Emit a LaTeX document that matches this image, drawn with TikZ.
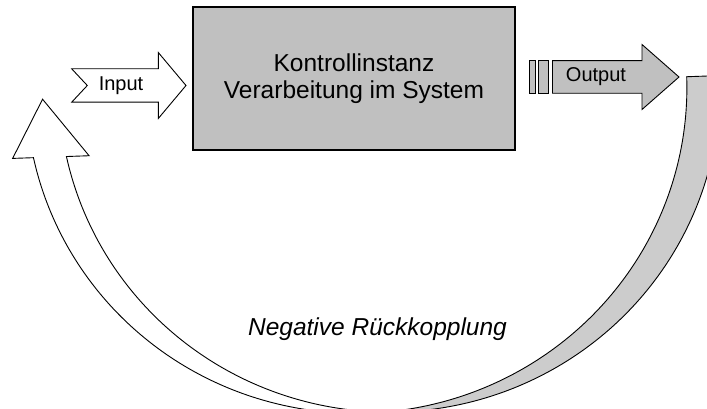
\documentclass[tikz,border=0pt]{standalone}
\usepackage{fontspec}
\setmainfont{Liberation Sans}
\definecolor{boxgray}{RGB}{192,192,192}
\definecolor{bandgray}{RGB}{204,204,204}
\begin{document}
\begin{tikzpicture}[x=1pt,y=-1pt,
  outl/.style={draw=black,line width=0.9pt,line join=miter},
  boxstyle/.style={draw=black,line width=1.1pt,fill=boxgray,minimum width=322pt,minimum height=143pt,inner sep=0pt,align=center,font=\fontsize{24.5}{27}\selectfont},
  smalltxt/.style={font=\fontsize{20}{24}\selectfont,inner sep=0pt},
  fbtxt/.style={font=\itshape\fontsize{24.5}{28}\selectfont,inner sep=0pt}]
\useasboundingbox (0,0) rectangle (707,409);
% curved feedback arrow
\begin{scope}
\clip (0,0) rectangle (707,409);
\begin{scope}[rotate around={2:(358,77)}]
 \filldraw[outl,fill=bandgray]
   plot[domain=0:92.86,samples=90] ({389+330.5*cos(\x)},{88.2+325*sin(\x)})
   -- plot[domain=87.14:0,samples=90] ({356+330.5*cos(\x)},{88.2+325*sin(\x)})
   -- cycle;
 \coordinate (hl) at (10,146.3);
 \coordinate (tip) at (42,88.2);
 \coordinate (hr) at (86.5,146.3);
 \filldraw[outl,fill=white]
   plot[domain=87.14:169.7,samples=90] ({356+330.5*cos(\x)},{88.2+325*sin(\x)})
   -- (hl) -- (tip) -- (hr)
   -- plot[domain=169.7:92.86,samples=90] ({389+330.5*cos(\x)},{88.2+325*sin(\x)})
   -- cycle;
\end{scope}
\end{scope}
% input arrow
\filldraw[outl,fill=white] (71.7,68.8) -- (87.3,85.5) -- (71.7,102.2) -- (158.3,102.2)
  -- (158.3,118.5) -- (186,85.5) -- (158.3,52.5) -- (158.3,68.8) -- cycle;
\node[smalltxt] (in) at (121,85.5) {Input};
% output arrow
\filldraw[outl,fill=boxgray] (529.7,60.7) rectangle (535.3,93.3);
\filldraw[outl,fill=boxgray] (538.8,60.7) rectangle (548,93.3);
\filldraw[outl,fill=boxgray] (552.5,60.7) -- (642,60.7) -- (642,44.5) -- (679,77)
  -- (642,109.5) -- (642,93.3) -- (552.5,93.3) -- cycle;
\node[smalltxt] (out) at (596,77) {Output};
% box
\node[boxstyle] (ctrl) at (354,78.5) {Kontrollinstanz\\Verarbeitung im System};
% feedback label
\node[fbtxt] (fb) at (377.5,329) {Negative Rückkopplung};
\end{tikzpicture}
\end{document}
